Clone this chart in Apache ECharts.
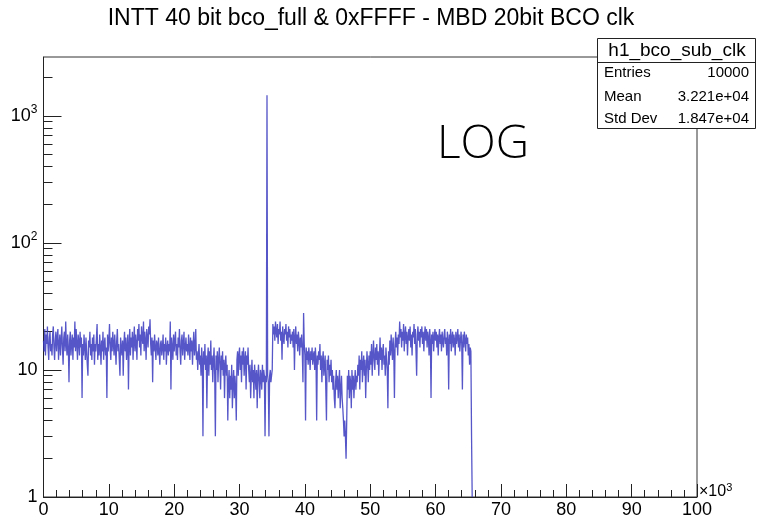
<!DOCTYPE html>
<html>
<head>
<meta charset="utf-8">
<script src="https://cdn.jsdelivr.net/npm/echarts@6/dist/echarts.min.js"></script>
<style>
  html, body { margin: 0; padding: 0; background: #fff; }
  #chart { width: 757px; height: 522px; }
</style>
</head>
<body>
<div id="chart"></div>
<script>
// ---------------- data ----------------
const titleText = 'INTT 40 bit bco_full & 0xFFFF - MBD 20bit BCO clk';
const histName = 'h1_bco_sub_clk';
const statLabels = ['Entries', 'Mean', 'Std Dev'];
const statValues = ['10000', '3.221e+04', '1.847e+04'];
const annotation = 'LOG';

const binWidth = 0.1; // bin width in units of 10^3
// bin contents, 100 counts per bin starting at 0
const binCounts = [
  17,14,21,13,19,16,22,15,12,18,20,14,16,13,19,22,15,12,17,20,
  14,18,21,12,16,19,13,17,22,15,11,18,20,14,24,16,13,19,15,8,
  17,20,13,16,19,12,18,15,24,14,21,16,12,19,17,13,20,15,18,6,
  16,13,19,15,12,18,14,11,9,17,15,20,13,16,12,18,14,19,11,16,
  14,18,23,12,16,13,19,15,11,17,14,20,12,16,18,13,15,6,19,14,
  17,23,15,12,18,14,20,16,13,19,15,11,17,21,14,16,12,9,18,15,
  13,17,9,16,20,14,18,12,15,19,7,16,21,13,18,15,20,12,17,22,
  14,19,16,12,21,17,23,15,19,13,22,18,16,24,14,20,17,12,21,18,
  15,22,19,25,16,13,18,8,17,14,19,15,12,17,16,13,18,14,11,16,
  17,13,15,19,12,16,14,18,11,15,17,13,16,14,24,7,18,15,12,19,
  14,17,20,13,16,12,18,15,21,14,11,17,19,13,16,20,12,15,18,14,
  16,13,19,15,12,18,14,17,11,16,20,13,15,21,12,14,10,13,16,11,
  13,9,15,12,3,14,11,16,10,13,5,12,15,9,14,11,17,10,13,8,
  12,15,9,3,13,10,14,8,12,15,11,7,13,10,14,9,12,6,11,13,
  9,11,4,8,10,6,9,7,11,5,8,10,6,9,7,4,12,14,9,13,
  15,10,13,8,14,11,15,9,12,14,7,13,11,15,10,8,11,6,9,12,
  8,10,6,11,9,7,10,5,9,11,8,6,10,9,7,11,8,10,9,3,
  9,8,1450,9,8,3,9,10,8,9,10,23,19,22,17,24,20,18,23,16,
  21,19,24,17,20,12,22,18,16,21,19,23,17,20,15,22,18,21,16,19,
  17,20,15,21,10,18,22,16,19,14,20,17,13,18,15,19,14,8,28,16,
  13,4,15,12,14,11,15,13,10,14,12,15,11,13,14,10,15,12,4,13,
  11,14,12,16,10,13,8,12,14,9,11,13,7,4,12,10,13,8,11,9,
  12,8,10,7,9,6,5,8,10,7,9,6,8,10,5,7,9,6,5,4,
  3,4,3,2,4,9,7,10,6,9,8,5,10,7,9,6,8,10,7,9,
  8,11,9,13,7,12,10,14,8,11,13,9,12,6,10,14,11,8,13,10,
  14,11,16,9,13,17,12,10,15,12,16,11,14,9,13,18,12,15,10,14,
  16,11,13,9,15,12,10,5,14,11,17,13,19,15,12,18,14,6,16,20,
  15,18,13,19,16,24,18,21,15,20,17,23,14,19,22,16,20,13,18,21,
  17,22,15,19,13,20,18,23,16,21,14,9,19,22,17,20,15,21,18,22,
  16,20,14,19,22,17,21,15,20,18,13,21,17,6,19,16,20,14,18,21,
  17,20,15,19,13,18,21,16,19,14,20,17,15,19,21,16,18,13,20,17,
  7,19,16,21,14,18,20,15,19,17,13,20,16,18,21,15,19,14,17,20,
  16,7,19,15,20,17,14,19,16,18,13,16,11,15,14,3
];

const xMin = 0, xMax = 100, xMajorStep = 10;
const yMin = 1, yMax = 2900;
const yMajorTicks = [1, 10, 100, 1000];
const yMinorTicks = [2,3,4,5,6,7,8,9,20,30,40,50,60,70,80,90,200,300,400,500,600,700,800,900,2000];

// --------------- chart ----------------
const FONT = "'Liberation Sans', Arial, Helvetica, sans-serif";
const histColor = 'rgba(56,56,192,0.85)';

const lineData = binCounts.map((v, i) => [i * binWidth, v]);
lineData.push([binCounts.length * binWidth, yMin]);

const chart = echarts.init(document.getElementById('chart'), null, { renderer: 'canvas' });

function yLabel(v) {
  if (v < 10) return '{n|' + v + '}';
  const e = Math.round(Math.log10(v));
  if (e === 1) return '{n|10}';
  return '{n|10}{s|' + e + '}';
}

const option = {
  animation: false,
  backgroundColor: '#ffffff',
  grid: {
    left: 43.5, right: 60, top: 57, bottom: 25,
    containLabel: false,
    outerBoundsMode: 'none',
    show: true,
    borderColor: '#333',
    borderWidth: 1,
    backgroundColor: 'transparent'
  },
  xAxis: {
    type: 'value',
    min: xMin, max: xMax, interval: xMajorStep,
    splitLine: { show: false },
    axisLine: { show: true, onZero: false, lineStyle: { color: '#222', width: 1 } },
    axisTick: { show: true, inside: true, length: 13, lineStyle: { color: '#222', width: 1 } },
    minorTick: { show: true, splitNumber: 5, length: 7, lineStyle: { color: '#222', width: 1 } },
    minorSplitLine: { show: false },
    axisLabel: { show: true, color: '#000', fontFamily: FONT, fontSize: 18, margin: 4 },
    name: '{a|×10}{s|3}',
    nameLocation: 'end',
    nameGap: 2,
    nameTextStyle: {
      align: 'left', verticalAlign: 'middle', padding: [0, 0, 10, 0],
      rich: {
        a: { fontFamily: FONT, fontSize: 16, color: '#000' },
        s: { fontFamily: FONT, fontSize: 11, color: '#000', padding: [0, 0, 9, 0] }
      }
    }
  },
  yAxis: [
    {
      type: 'log', logBase: 10, min: yMin, max: yMax,
      splitLine: { show: false },
      axisLine: { show: true, lineStyle: { color: '#222', width: 1 } },
      axisTick: { show: true, inside: true, length: 18, customValues: yMajorTicks, lineStyle: { color: '#222', width: 1 } },
      minorTick: { show: false },
      axisLabel: {
        show: true, customValues: yMajorTicks, margin: 6,
        formatter: yLabel,
        rich: {
          n: { fontFamily: FONT, fontSize: 18, color: '#000' },
          s: { fontFamily: FONT, fontSize: 12, color: '#000', padding: [0, 0, 12, 0] }
        }
      }
    },
    {
      type: 'log', logBase: 10, min: yMin, max: yMax, position: 'left',
      splitLine: { show: false },
      axisLine: { show: false },
      axisTick: { show: true, inside: true, length: 9, customValues: yMinorTicks, lineStyle: { color: '#222', width: 1 } },
      axisLabel: { show: false }
    }
  ],
  series: [
    {
      type: 'line',
      data: lineData,
      step: 'end',
      showSymbol: false,
      symbol: 'none',
      clip: true,
      lineStyle: { color: histColor, width: 1.3 },
      emphasis: { disabled: true },
      z: 2
    }
  ],
  graphic: [
    {
      type: 'text', x: 371, y: 19, z: 10,
      style: { text: titleText, fontFamily: FONT, fontSize: 23, fill: '#000', textAlign: 'center', textVerticalAlign: 'middle' }
    },
    {
      type: 'text', x: 437, y: 145, z: 10,
      style: { text: annotation, fontFamily: "'Open Sans', 'Noto Sans', sans-serif", fontWeight: 300, fontSize: 46, fill: '#000', textAlign: 'left', textVerticalAlign: 'middle' }
    },
    {
      type: 'group', z: 20,
      children: [
        { type: 'rect', shape: { x: 597.5, y: 38.5, width: 158, height: 90 }, style: { fill: '#fff', stroke: '#222', lineWidth: 1 } },
        { type: 'line', shape: { x1: 597.5, y1: 62.5, x2: 755.5, y2: 62.5 }, style: { stroke: '#222', lineWidth: 1 } },
        { type: 'text', x: 677, y: 51, style: { text: histName, fontFamily: FONT, fontSize: 19, fill: '#000', textAlign: 'center', textVerticalAlign: 'middle' } },
        { type: 'text', x: 604, y: 73, style: { text: statLabels[0], fontFamily: FONT, fontSize: 15, fill: '#000', textAlign: 'left', textVerticalAlign: 'middle' } },
        { type: 'text', x: 749, y: 73, style: { text: statValues[0], fontFamily: FONT, fontSize: 15, fill: '#000', textAlign: 'right', textVerticalAlign: 'middle' } },
        { type: 'text', x: 604, y: 97, style: { text: statLabels[1], fontFamily: FONT, fontSize: 15, fill: '#000', textAlign: 'left', textVerticalAlign: 'middle' } },
        { type: 'text', x: 749, y: 97, style: { text: statValues[1], fontFamily: FONT, fontSize: 15, fill: '#000', textAlign: 'right', textVerticalAlign: 'middle' } },
        { type: 'text', x: 604, y: 119, style: { text: statLabels[2], fontFamily: FONT, fontSize: 15, fill: '#000', textAlign: 'left', textVerticalAlign: 'middle' } },
        { type: 'text', x: 749, y: 119, style: { text: statValues[2], fontFamily: FONT, fontSize: 15, fill: '#000', textAlign: 'right', textVerticalAlign: 'middle' } }
      ]
    }
  ]
};
chart.setOption(option);
</script>
</body>
</html>
